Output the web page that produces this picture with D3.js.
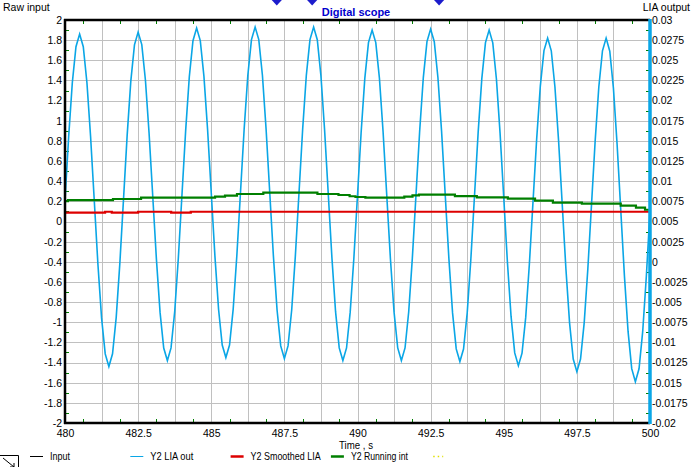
<!DOCTYPE html>
<html><head><meta charset="utf-8">
<script src="https://cdn.jsdelivr.net/npm/d3@7"></script>
<style>
html,body{margin:0;padding:0;background:#fff;}
svg{display:block;font-family:"Liberation Sans",Arial,sans-serif;}
</style></head>
<body><svg id="chart" width="696" height="467"></svg>
<script>
// ---------- data ----------
const timeDomain = [480, 500];
const rawDomain = [-2, 2];          // left axis (Raw input)
const liaDomain = [-0.02, 0.03];    // right axis (LIA output)

const xTicks = [480, 482.5, 485, 487.5, 490, 492.5, 495, 497.5, 500];
const xGrid = [481.25, 482.5, 483.75, 485, 486.25, 487.5, 488.75, 490, 491.25, 492.5, 493.75, 495, 496.25, 497.5, 498.75];
const xMinor = [480.625, 481.875, 483.125, 484.375, 485.625, 486.875, 488.125, 489.375, 490.625, 491.875, 493.125, 494.375, 495.625, 496.875, 498.125, 499.375];
const leftTicks = [2, 1.8, 1.6, 1.4, 1.2, 1, 0.8, 0.6, 0.4, 0.2, 0, -0.2, -0.4, -0.6, -0.8, -1, -1.2, -1.4, -1.6, -1.8, -2];
const leftMinor = [1.9, 1.7, 1.5, 1.3, 1.1, 0.9, 0.7, 0.5, 0.3, 0.1, -0.1, -0.3, -0.5, -0.7, -0.9, -1.1, -1.3, -1.5, -1.7, -1.9];
const rightTicks = [0.03, 0.0275, 0.025, 0.0225, 0.02, 0.0175, 0.015, 0.0125, 0.01, 0.0075, 0.005, 0.0025, 0, -0.0025, -0.005, -0.0075, -0.01, -0.0125, -0.015, -0.0175, -0.02];
const rightMinor = [0.02875, 0.02625, 0.02375, 0.02125, 0.01875, 0.01625, 0.01375, 0.01125, 0.00875, 0.00625, 0.00375, 0.00125, -0.00125, -0.00375, -0.00625, -0.00875, -0.01125, -0.01375, -0.01625, -0.01875];

// Y2 LIA out, sampled every 0.125 s from 480 s
const liaStart = 480, liaStep = 0.125;
const liaOut = [
 0.00763, 0.01552, 0.02221, 0.02668, 0.02825,
 0.02668, 0.02221, 0.01552, 0.00763, -0.00027, -0.00696, -0.01143, -0.013,
 -0.01142, -0.00692, -0.00019, 0.00775, 0.01569, 0.02242, 0.02692, 0.0285,
 0.02695, 0.02253, 0.01592, 0.00813, 0.00033, -0.00628, -0.0107, -0.01225,
 -0.01068, -0.00621, 0.00048, 0.00838, 0.01627, 0.02296, 0.02743, 0.029,
 0.02745, 0.02301, 0.01638, 0.00856, 0.00074, -0.00589, -0.01033, -0.01188,
 -0.01032, -0.00587, 0.00078, 0.00863, 0.01647, 0.02312, 0.02757, 0.02913,
 0.02757, 0.02311, 0.01644, 0.00857, 0.0007, -0.00598, -0.01044, -0.012,
 -0.01044, -0.00598, 0.0007, 0.00857, 0.01644, 0.02311, 0.02757, 0.02913,
 0.02756, 0.02307, 0.01636, 0.00844, 0.00052, -0.00619, -0.01068, -0.01225,
 -0.01069, -0.00625, 0.00041, 0.00825, 0.0161, 0.02275, 0.02719, 0.02875,
 0.02719, 0.02275, 0.0161, 0.00825, 0.00041, -0.00625, -0.01069, -0.01225,
 -0.01069, -0.00623, 0.00045, 0.00832, 0.01619, 0.02286, 0.02732, 0.02888,
 0.02731, 0.02284, 0.01615, 0.00825, 0.00036, -0.00634, -0.01081, -0.01238,
 -0.01082, -0.00636, 0.00032, 0.00819, 0.01606, 0.02273, 0.02719, 0.02875,
 0.02717, 0.02265, 0.0159, 0.00794, -0.00003, -0.00678, -0.0113, -0.01288,
 -0.01133, -0.00693, -0.00034, 0.00744, 0.01521, 0.0218, 0.0262, 0.02775,
 0.02618, 0.02169, 0.01498, 0.00706, -0.00086, -0.00757, -0.01206, -0.01363,
 -0.01206, -0.00757, -0.00086, 0.00706, 0.01498, 0.02169, 0.02618, 0.02775,
 0.02613, 0.02151, 0.01459, 0.00644, -0.00172, -0.00864, -0.01326, -0.01488,
 -0.01327, -0.00867, -0.0018, 0.00631
];

// Y2 Smoothed LIA (step changes)
const smoothT = [480, 481.37, 481.6, 482.5, 483.63, 484.3, 500];
const smoothV = [0.00609, 0.00621, 0.00609, 0.00621, 0.00609, 0.00621, 0.00621];

// Y2 Running int (step changes)
const runT = [480, 480.1, 481.64, 482.6, 485.13, 485.47, 485.88, 486.78, 488.63, 489.35, 489.73, 489.93, 490.27, 491.6, 491.88, 492.1, 493.33, 494.08, 495.14, 496.07, 496.68, 497.67, 499.0, 499.52, 499.83, 500];
const runV = [0.00754, 0.00766, 0.00779, 0.00795, 0.00808, 0.0082, 0.00841, 0.00858, 0.00841, 0.00829, 0.00813, 0.00804, 0.00795, 0.00808, 0.00825, 0.00833, 0.00816, 0.008, 0.00783, 0.00758, 0.00734, 0.00721, 0.00696, 0.00671, 0.00646, 0.00646];

// cursor markers on top
const markers = [487.24, 488.45, 492.79];

const legendNames = ["Input", "Y2 LIA out", "Y2 Smoothed LIA", "Y2 Running int", ""];
const legendColors = ["#000000", "#0aa6e6", "#dd0000", "#007f00", "#e0e000"];

// ---------- drawing ----------
const svg = d3.select("#chart");
const L = 65, R = 650, T = 20, B = 423;
const x = d3.scaleLinear().domain(timeDomain).range([L, R]);
const yL = d3.scaleLinear().domain(rawDomain).range([B, T]);
const yR = d3.scaleLinear().domain(liaDomain).range([B, T]);
const loc = d3.formatLocale({decimal: ".", thousands: ",", grouping: [3], currency: ["", ""], minus: "-"});
const fmt = loc.format("~g");
const fmtR = loc.format(".4~f");
const FS = "10.5px";

// grid
const grid = svg.append("g").attr("stroke", "#c0c0c0").attr("stroke-width", 1);
grid.selectAll(".gx").data(xGrid).join("line")
  .attr("x1", d => Math.round(x(d)) + 0.5).attr("x2", d => Math.round(x(d)) + 0.5)
  .attr("y1", T).attr("y2", B);
grid.selectAll(".gy").data(leftTicks.slice(1, -1)).join("line")
  .attr("x1", L).attr("x2", R)
  .attr("y1", d => Math.round(yL(d)) + 0.5).attr("y2", d => Math.round(yL(d)) + 0.5);

// minor ticks (green, inward)
const mt = svg.append("g").attr("stroke", "#007f00").attr("stroke-width", 1);
mt.selectAll(".mtx").data(xMinor).join("line")
  .attr("x1", d => Math.round(x(d)) + 0.5).attr("x2", d => Math.round(x(d)) + 0.5)
  .attr("y1", T).attr("y2", T + 4);
mt.selectAll(".mbx").data(xMinor).join("line")
  .attr("x1", d => Math.round(x(d)) + 0.5).attr("x2", d => Math.round(x(d)) + 0.5)
  .attr("y1", B).attr("y2", B - 4);
mt.selectAll(".mly").data(leftMinor).join("line")
  .attr("x1", L).attr("x2", L + 4)
  .attr("y1", d => Math.round(yL(d)) + 0.5).attr("y2", d => Math.round(yL(d)) + 0.5);
mt.selectAll(".mry").data(rightMinor).join("line")
  .attr("x1", R).attr("x2", R - 4)
  .attr("y1", d => Math.round(yR(d)) + 0.5).attr("y2", d => Math.round(yR(d)) + 0.5);

// series
const liaLine = d3.line().x((d, i) => x(liaStart + i * liaStep)).y(d => yR(d));
svg.append("path").datum(liaOut).attr("d", liaLine)
  .attr("fill", "none").attr("stroke", legendColors[1]).attr("stroke-width", 1.6);

const stepLine = (ts) => d3.line().curve(d3.curveStepAfter).x((d, i) => x(ts[i])).y(d => yR(d));
svg.append("path").datum(smoothV).attr("d", stepLine(smoothT))
  .attr("fill", "none").attr("stroke", legendColors[2]).attr("stroke-width", 2.2);
svg.append("path").datum(runV).attr("d", stepLine(runT))
  .attr("fill", "none").attr("stroke", legendColors[3]).attr("stroke-width", 2.2);

// frame
svg.append("line").attr("x1", L - 1).attr("x2", R).attr("y1", T).attr("y2", T).attr("stroke", "#000").attr("stroke-width", 2.5);
svg.append("line").attr("x1", L - 1).attr("x2", R).attr("y1", B).attr("y2", B).attr("stroke", "#000").attr("stroke-width", 2.5);
svg.append("line").attr("x1", L).attr("x2", L).attr("y1", T - 1).attr("y2", B + 1).attr("stroke", "#000").attr("stroke-width", 2.5);
svg.append("line").attr("x1", R).attr("x2", R).attr("y1", T - 1).attr("y2", B + 1).attr("stroke", legendColors[1]).attr("stroke-width", 3.5);

// axes (labels only)
const axL = svg.append("g").attr("transform", `translate(${L - 3},0)`)
  .call(d3.axisLeft(yL).tickValues(leftTicks).tickFormat(fmt).tickSize(0).tickPadding(0));
const axR = svg.append("g").attr("transform", `translate(${R + 2},0)`)
  .call(d3.axisRight(yR).tickValues(rightTicks).tickFormat(fmtR).tickSize(0).tickPadding(0));
const axB = svg.append("g").attr("transform", `translate(0,${B + 6.5})`)
  .call(d3.axisBottom(x).tickValues(xTicks).tickFormat(fmt).tickSize(0).tickPadding(0));
[axL, axR, axB].forEach(a => {
  a.select(".domain").remove();
  a.selectAll("text").attr("fill", "#000").style("font-size", FS).style("font-family", '"Liberation Sans",Arial,sans-serif');
});

// titles
svg.append("text").attr("x", 3).attr("y", 11).text("Raw input").style("font-size", FS);
svg.append("text").attr("x", 690).attr("y", 11).attr("text-anchor", "end").text("LIA output").style("font-size", FS);
svg.append("text").attr("x", 356).attr("y", 16).attr("text-anchor", "middle").text("Digital scope")
  .style("font-size", "11px").style("font-weight", "bold").attr("fill", "#0000cc");
svg.append("text").attr("x", 356).attr("y", 449).attr("text-anchor", "middle").text("Time , s")
  .style("font-size", FS).attr("textLength", 34).attr("lengthAdjust", "spacingAndGlyphs");

// markers
svg.append("g").selectAll("path").data(markers).join("path")
  .attr("d", d => `M${x(d) - 6},-1 L${x(d) + 6},-1 L${x(d)},5.5 Z`)
  .attr("fill", "#1c1ccc");

// legend
const legendTextLen = [20, 43, 70, 57, 0];
const lg = svg.append("g");
legendNames.forEach((name, i) => {
  const lx = 30 + i * 100.3;
  if (i === 4) {
    lg.append("line").attr("x1", lx + 2).attr("x2", lx + 12).attr("y1", 456.5).attr("y2", 456.5)
      .attr("stroke", legendColors[i]).attr("stroke-width", 1.5).attr("stroke-dasharray", "1.5,3");
  } else {
    lg.append("line").attr("x1", lx).attr("x2", lx + 13).attr("y1", 456.5).attr("y2", 456.5)
      .attr("stroke", legendColors[i]).attr("stroke-width", i >= 2 ? 2.5 : 1);
    lg.append("text").attr("x", lx + 20).attr("y", 460).text(name).style("font-size", FS)
      .attr("textLength", legendTextLen[i]).attr("lengthAdjust", "spacingAndGlyphs");
  }
});

// corner icon
svg.append("path").attr("d", "M0,455.5 H18.5 V468 M3,458 L14,467 M14,467 L14,463 M14,467 L10,467")
  .attr("fill", "none").attr("stroke", "#000").attr("stroke-width", 1);
</script>
</body></html>
